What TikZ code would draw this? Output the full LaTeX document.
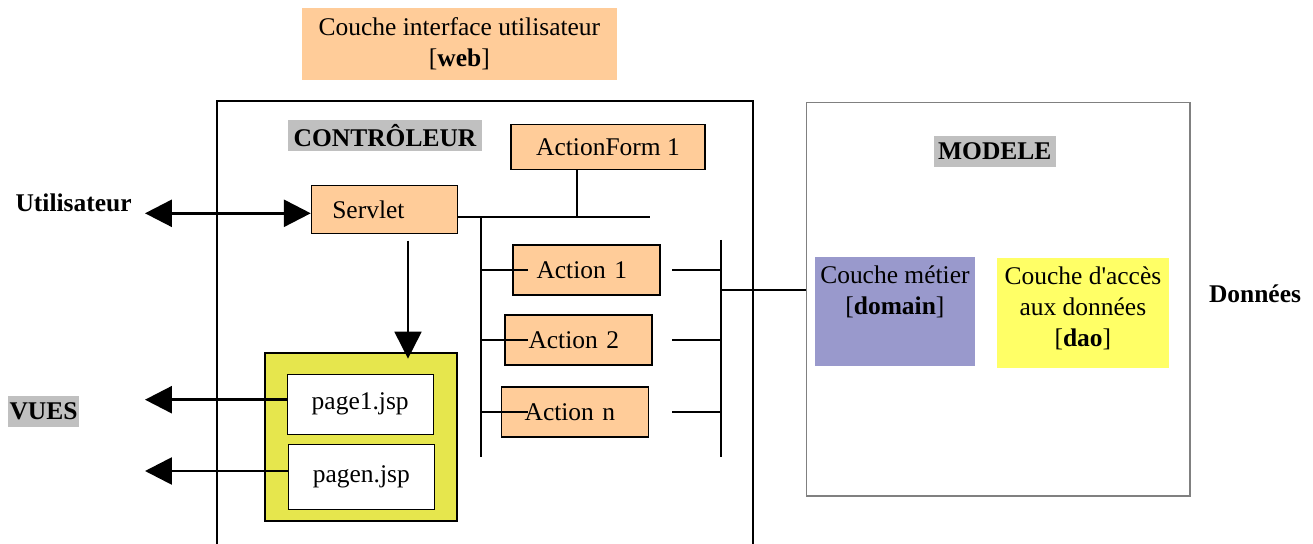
\documentclass[tikz,border=0pt]{standalone}
\usepackage{fontspec}
\setmainfont{Liberation Serif}[Ligatures=TeXOff]
\usepackage{xcolor}
\usepackage{tikz}
\usetikzlibrary{arrows.meta,positioning,calc}
\definecolor{peche}{HTML}{FFCC99}
\definecolor{jaunevue}{HTML}{E6E64D}
\definecolor{grisclair}{HTML}{C0C0C0}
\definecolor{mauve}{HTML}{9999CC}
\definecolor{jaunedao}{HTML}{FFFF66}
\newcommand{\taille}{\fontsize{14.5}{17.6}\selectfont}
\tikzset{
    boite/.style={
        rectangle,
        draw,
        line width=0.6pt,
        align=center,
        inner sep=2pt
    },
    composant/.style={boite, fill=peche},
    action/.style={
        composant,
        minimum width=2.94cm,
        minimum height=1cm,
        text width=2cm,
        inner xsep=0.47cm,
        align=left
    },
    page/.style={boite, fill=white, minimum width=2.92cm},
    couche/.style={rectangle, align=center, inner sep=0pt},
    titre/.style={fill=grisclair, font=\taille\bfseries, inner sep=0pt, minimum height=0.62cm},
    liaison/.style={line width=1.2pt},
    fleche/.style={line width=1.6pt, -{Triangle[length=0.54cm, width=0.54cm]}},
    fleches/.style={line width=1.6pt,
        {Triangle[length=0.54cm, width=0.54cm]}-{Triangle[length=0.54cm, width=0.54cm]}}
}

\begin{document}
\begin{tikzpicture}[x=0.02cm, y=-0.02cm, font=\taille]
    \useasboundingbox (0,0) rectangle (1313,544);
    \clip (0,0) rectangle (1313,544);

    \node[composant, draw=none, minimum width=6.3cm, minimum height=1.45cm] (web)
        at (459.4,44) {Couche interface utilisateur\\{}[\textbf{web}]};

    \node[rectangle, draw, line width=1.2pt, minimum width=10.73cm, minimum height=9.19cm]
        (controleur) at (484.9,330.3) {};
    \node[rectangle, draw=gray, line width=0.8pt, minimum width=7.67cm, minimum height=7.87cm]
        (modele) at (998.2,299.3) {};

    \node[titre, minimum width=3.88cm] (titreC) at (385,135.5) {CONTRÔLEUR};
    \node[titre, minimum width=2.43cm] (titreM) at (994.8,151.4) {MODELE};
    \node[titre, minimum width=1.42cm] (vues) at (43.5,411.3) {VUES};
    \node[font=\taille\bfseries] (utilisateur) at (73.6,202.7) {Utilisateur};
    \node[font=\taille\bfseries] (donnees) at (1255,294) {Données};

    \node[composant, minimum width=3.88cm, minimum height=0.9cm] (af)
        at (608,146.8) {ActionForm 1};
    \node[composant, minimum height=0.97cm, text width=2.08cm, inner xsep=0.42cm, align=left]
        (servlet) at (384.3,209.7) {Servlet};

    \node[action] (a1) at (586.5,270) {Action 1};
    \node[action] (a2) at (578.5,340) {Action 2};
    \node[action] (an) at (574.6,412) {Action n};

    \node[boite, fill=jaunevue, line width=1.2pt, minimum width=3.84cm, minimum height=3.36cm]
        (jsp) at (360.7,436.7) {};
    \node[page, minimum height=1.2cm] (page1) at (360.2,404.3) {page1.jsp};
    \node[page, minimum height=1.3cm] (pagen) at (361.3,476.8) {pagen.jsp};

    \node[couche, fill=mauve, minimum width=3.2cm, minimum height=2.17cm] (domaine)
        at (894.9,311.4) {};
    \node[couche, fill=jaunedao, minimum width=3.43cm, minimum height=2.19cm] (dao)
        at (1082.9,313) {};
    \node[below=0.05cm of domaine.north, align=center] (txtdomaine)
        {Couche métier\\{}[\textbf{domain}]};
    \node[below=0.05cm of dao.north, align=center] (txtdao)
        {Couche d'accès\\aux données\\{}[\textbf{dao}]};

    \coordinate (gU) at (145,213.3);
    \draw[fleches] (gU) -- (servlet.west |- gU);

    \coordinate (bus) at (650,217);
    \coordinate (busAF) at (576.6,217);
    \coordinate (busG) at (480.6,217);
    \coordinate (busGbas) at (480.6,457);
    \coordinate (busD) at (721,240);
    \coordinate (busDbas) at (721,457);
    \coordinate (talonG) at (528,0);
    \coordinate (talonD) at (672,0);
    \coordinate (lien) at (721,290);

    \draw[liaison] (servlet.east |- bus) -- (bus);
    \draw[liaison] (busAF |- af.south) -- (busAF);
    \draw[liaison] (busG) -- (busGbas);
    \draw[liaison] (busD) -- (busDbas);
    \foreach \act in {a1,a2,an}{
        \draw[liaison] (busG |- \act) -- (talonG |- \act);
        \draw[liaison] (talonD |- \act) -- (busD |- \act);
    }
    \draw[liaison] (lien) -- (modele.west |- lien);

    \coordinate (descente) at (408,240.7);
    \draw[fleche, line width=1.1pt] (descente) -- ($(descente |- jsp.north)+(0,7)$);

    \coordinate (g1) at (145,399.7);
    \coordinate (g2) at (145,471);
    \draw[fleche] (page1.west |- g1) -- (g1);
    \draw[fleche] (pagen.west |- g2) -- (g2);
\end{tikzpicture}
\end{document}
